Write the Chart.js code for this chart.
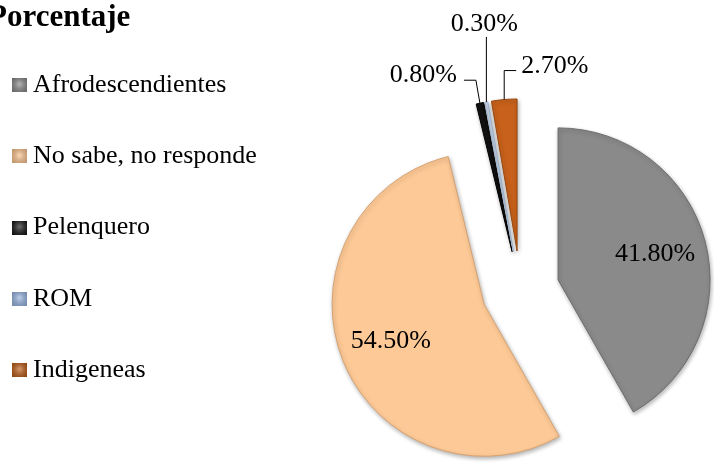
<!DOCTYPE html>
<html>
<head>
<meta charset="utf-8">
<script src="https://cdn.jsdelivr.net/npm/chart.js@4.4.1/dist/chart.umd.min.js"></script>
<style>
  html, body { margin:0; padding:0; background:#fff; overflow:hidden; width:714px; height:466px; }
  #wrap { position:absolute; left:-40px; top:0; }
</style>
</head>
<body>
<div id="wrap"><canvas id="chart" width="817" height="553"></canvas></div>
<script>
// ------------------- Data -------------------
const chartTitle = "Porcentaje";
const categories = ["Afrodescendientes", "No sabe, no responde", "Pelenquero", "ROM", "Indigeneas"];
const percentages = [41.8, 54.5, 0.8, 0.3, 2.7];

// ------------------- Style -------------------
const serif = "'Liberation Serif', 'Times New Roman', serif";
const sliceColors = ["#8a8a8a", "#fdc996", "#111111", "#c9d7e8", "#c8611b"];
const edgeColors = ["#6c6c6c", "#d6a271", "#000000", "#9fb4cf", "#97470f"];
const markerColors = ["#7f7f7f", "#f0b985", "#111111", "#8eaad6", "#b0530f"];
const explode = 39;

// leader lines for the thin slices: path offsets and text offset from the slice's outer edge
const leaders = {
  2: { path: [[-4, -23], [-16, -23]], text: [-23, -28], align: "right" },
  3: { path: [[0, -65]], text: [-2, -78], align: "center" },
  4: { path: [[0, -29], [12, -29]], text: [17, -33], align: "left" }
};

function makeMarker(color){
  const c = document.createElement("canvas");
  c.width = 15; c.height = 14;
  const g = c.getContext("2d");
  g.fillStyle = color;
  g.fillRect(0, 0, 15, 14);
  const grad = g.createRadialGradient(7.5, 6, 1, 7.5, 7, 10);
  grad.addColorStop(0, "rgba(255,255,255,0.35)");
  grad.addColorStop(1, "rgba(0,0,0,0.18)");
  g.fillStyle = grad;
  g.fillRect(0, 0, 15, 14);
  return c;
}
const markers = markerColors.map(makeMarker);

function arcGeom(arc){
  const p = arc.getProps(["x", "y", "startAngle", "endAngle", "outerRadius"]);
  const mid = (p.startAngle + p.endAngle) / 2;
  return { x: p.x, y: p.y, r: p.outerRadius, cos: Math.cos(mid), sin: Math.sin(mid) };
}

// ------------------- Plugin: exploded slices, labels, title -------------------
const pieDecor = {
  id: "pieDecor",
  beforeDatasetDraw(chart, args){
    const ctx = chart.ctx;
    args.meta.data.forEach(arc => {
      const g = arcGeom(arc);
      ctx.save();
      ctx.shadowColor = "rgba(0,0,0,0.3)";
      ctx.shadowBlur = 4;
      ctx.shadowOffsetX = 1;
      ctx.shadowOffsetY = 2;
      ctx.translate(g.cos * explode, g.sin * explode);
      arc.draw(ctx);
      ctx.restore();
    });
    return false;
  },
  afterDraw(chart){
    const ctx = chart.ctx;
    const arcs = chart.getDatasetMeta(0).data;
    ctx.save();
    ctx.fillStyle = "#000";
    ctx.font = "bold 31px " + serif;
    ctx.textAlign = "left";
    ctx.textBaseline = "alphabetic";
    ctx.fillText(chartTitle, 28, 26);

    ctx.font = "26px " + serif;
    ctx.textBaseline = "middle";
    ctx.strokeStyle = "#000";
    ctx.lineWidth = 1;
    arcs.forEach((arc, i) => {
      const g = arcGeom(arc);
      const text = percentages[i].toFixed(2) + "%";
      const lead = leaders[i];
      if (!lead) {
        const r = explode + g.r * 0.66;
        ctx.textAlign = "center";
        ctx.fillText(text, g.x + g.cos * r, g.y + g.sin * r);
        return;
      }
      const px = g.x + g.cos * (explode + g.r);
      const py = g.y + g.sin * (explode + g.r);
      ctx.beginPath();
      ctx.moveTo(px, py);
      lead.path.forEach(([dx, dy]) => ctx.lineTo(px + dx, py + dy));
      ctx.stroke();
      ctx.textAlign = lead.align;
      ctx.fillText(text, px + lead.text[0], py + lead.text[1]);
    });
    ctx.restore();
  }
};

// ------------------- Chart -------------------
const chart = new Chart(document.getElementById("chart"), {
  type: "pie",
  data: {
    labels: categories,
    datasets: [{
      data: percentages,
      backgroundColor: sliceColors,
      borderColor: edgeColors,
      borderWidth: 1,
      radius: 152
    }]
  },
  options: {
    responsive: false,
    animation: false,
    layout: { padding: { left: 13.75, top: 26.75, right: 0, bottom: 0 } },
    plugins: {
      tooltip: { enabled: false },
      legend: {
        position: "left",
        align: "start",
        maxWidth: 290,
        labels: {
          usePointStyle: true,
          boxWidth: 1,
          padding: 45.25,
          color: "#000",
          font: { family: serif, size: 26 },
          generateLabels: (c) => Chart.overrides.doughnut.plugins.legend.labels.generateLabels(c)
            .map((item, i) => Object.assign(item, { pointStyle: markers[i] }))
        }
      }
    }
  },
  plugins: [pieDecor]
});
</script>
</body>
</html>
